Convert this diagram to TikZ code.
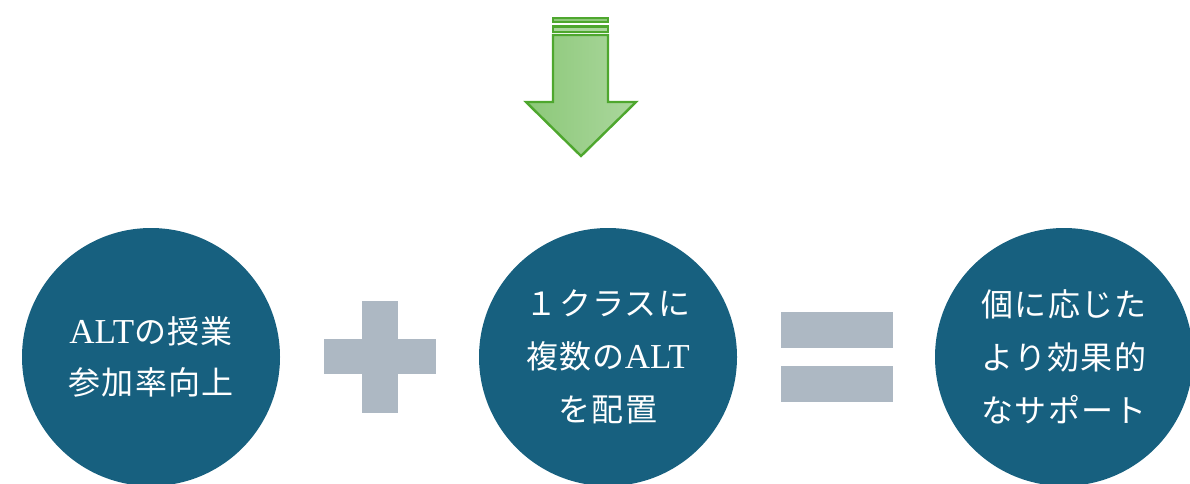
\documentclass[tikz,border=0pt]{standalone}
\usepackage{fontspec}
\setmainfont{Liberation Serif}
\newfontfamily\jp[LetterSpace=4]{Noto Sans CJK JP}
\newcommand\altword{{\fontsize{35}{51}\selectfont ALT}}
\usetikzlibrary{shapes.geometric}
\definecolor{circblue}{HTML}{17607F}
\definecolor{opgray}{HTML}{ADB8C3}
\definecolor{arrgreen}{HTML}{4EA72E}
\definecolor{arrfillL}{HTML}{8CC879}
\definecolor{arrfillR}{HTML}{ABD79D}
\tikzset{
  bubble/.style={circle, fill=circblue, minimum size=258pt, inner sep=0pt,
    text=white, align=center, font=\fontsize{32}{53}\selectfont},
  opbar/.style={fill=opgray, draw=none},
  arrline/.style={draw=arrgreen, line width=2.4pt, line join=miter}
}
\begin{document}
\begin{tikzpicture}[x=1pt,y=-1pt]
\useasboundingbox (0,0) rectangle (1190,483);
\clip (0,0) rectangle (1190,483);
% down arrow
\path[arrline, left color=arrfillL, right color=arrfillR]
  (553,35) -- (608,35) -- (608,102) -- (636,102) -- (581,156) -- (526,102) -- (553,102) -- cycle;
\path[fill=arrgreen] (552,17) rectangle (609,23);
\path[fill=arrfillR!70!arrgreen] (554,19) rectangle (607,21);
\path[fill=arrgreen] (552,25) rectangle (609,33);
\path[fill=arrfillR] (554,27.5) rectangle (607,30.5);
% circles
\node[bubble, font=\fontsize{32}{51}\selectfont] (c1) at (151,357) {\altword{\jp の授業}\\{\jp 参加率向上}};
\node[bubble] (c2) at (608,357) {{\jp １クラスに}\\{\jp 複数の}\altword\\{\jp を配置}};
\node[bubble] (c3) at (1064,357) {{\jp 個に応じた}\\{\jp より効果的}\\{\jp なサポート}};
% plus
\path[opbar] (362,301) rectangle (398,413);
\path[opbar] (324,339) rectangle (436,374);
% equals
\path[opbar] (781,312) rectangle (893,348);
\path[opbar] (781,366) rectangle (893,402);
\end{tikzpicture}
\end{document}
